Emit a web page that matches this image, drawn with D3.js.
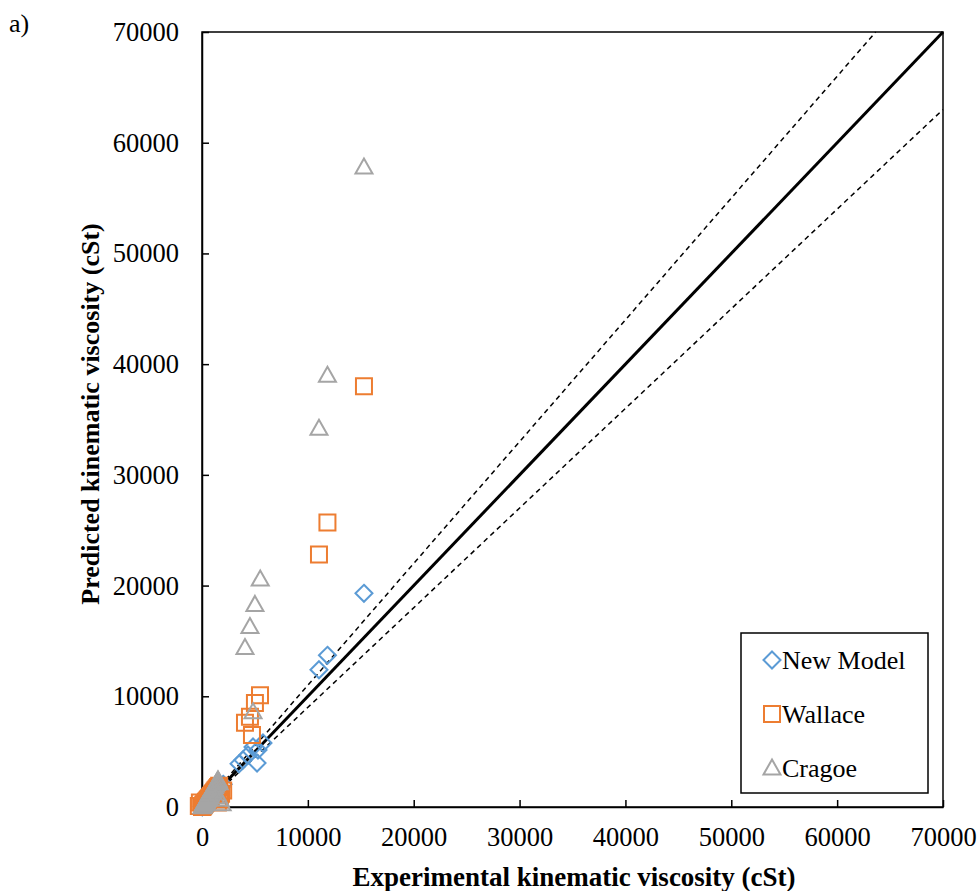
<!DOCTYPE html>
<html>
<head>
<meta charset="utf-8">
<script src="https://cdn.jsdelivr.net/npm/d3@7"></script>
<style>
  body { margin: 0; background: #fff; }
  text { font-family: 'Liberation Serif', 'Times New Roman', serif; }
</style>
</head>
<body>
<div id="chart"></div>
<script>
// experimental (x) and predicted (y) viscosities, cSt
let newModelExp = [15300, 11850, 11050, 3870, 4340, 4820, 5290, 5760, 5200, 3500,
  20, 40, 60, 80, 100, 130, 160, 200, 240, 280, 330, 380, 430, 500, 560, 620, 690, 760, 840, 920, 1000, 1080, 1160, 1250, 1340, 1430, 1520, 1620, 1800, 2000]
let newModelPred = [19300, 13700, 12400, 4250, 4700, 5420, 5150, 5780, 3970, 3900,
  22, 41, 62, 79, 103, 128, 165, 198, 243, 276, 335, 372, 440, 495, 570, 610, 700, 750, 850, 910, 1010, 1070, 1170, 1240, 1350, 1420, 1530, 1600, 1780, 2050]

let wallaceExp = [15300, 11850, 11050, 5480, 5000, 4530, 4060, 4720,
  0, 20, 40, 60, 80, 100, 130, 160, 200, 240, 280, 330, 380, 430, 500, 560, 620, 690, 760, 840, 920, 1000, 1080, 1160, 1250, 1340, 1430, 1520, 1620, 1800, 2000, 1700, 1500, -300, -200]
let wallacePred = [38000, 25700, 22800, 10100, 9400, 8150, 7600, 6500,
  0, 25, 50, 70, 95, 120, 155, 190, 240, 290, 330, 390, 450, 510, 590, 660, 730, 810, 890, 990, 1080, 1180, 1270, 1370, 1480, 1590, 1700, 1810, 1930, 1200, 1500, 700, 400, 100, 400]

let cragoeExp = [15300, 11850, 11050, 5500, 5000, 4530, 4060, 4820, 1510,
  20, 40, 60, 80, 100, 130, 160, 200, 240, 280, 330, 380, 430, 500, 560, 620, 690, 760, 840, 920, 1000, 1080, 1160, 1250, 1340, 1430, 1520, 1620, 1900, 1700, 1300]
let cragoePred = [57800, 39000, 34200, 20600, 18300, 16300, 14400, 8600, 2450,
  30, 60, 90, 120, 150, 200, 240, 300, 370, 430, 510, 590, 670, 780, 880, 980, 1090, 1200, 1330, 1460, 1590, 1720, 1850, 1990, 2130, 2270, 2400, 2200, 300, 700, 900]

let tickValues = [0, 10000, 20000, 30000, 40000, 50000, 60000, 70000]
let seriesNames = ['New Model', 'Wallace', 'Cragoe']
let seriesColors = ['#5B9BD5', '#ED7D31', '#A5A5A5']

var width = 977
var height = 891

var svg = d3.select('#chart')
  .append('svg')
  .attr('width', width)
  .attr('height', height)

var x = d3.scaleLinear().domain([0, 70000]).range([202, 943])
var y = d3.scaleLinear().domain([0, 70000]).range([807, 32])

// plot frame
svg.append('rect')
  .attr('x', x(0)).attr('y', y(70000))
  .attr('width', x(70000) - x(0)).attr('height', y(0) - y(70000))
  .attr('fill', 'none').attr('stroke', '#000').attr('stroke-width', 1.5)

// axes with inside ticks
var xAxis = svg.append('g')
  .attr('transform', 'translate(0,' + y(0) + ')')
  .call(d3.axisBottom(x).tickValues(tickValues).tickSizeInner(-7).tickSizeOuter(0).tickPadding(20).tickFormat(d3.format('d')))
var yAxis = svg.append('g')
  .attr('transform', 'translate(' + x(0) + ',0)')
  .call(d3.axisLeft(y).tickValues(tickValues).tickSizeInner(-7).tickSizeOuter(0).tickPadding(23).tickFormat(d3.format('d')))

;[xAxis, yAxis].forEach(function (g) {
  g.select('.domain').attr('stroke', '#000').attr('stroke-width', 1.5)
  g.selectAll('.tick line').attr('stroke', '#000').attr('stroke-width', 1.5)
  g.selectAll('.tick text')
    .attr('fill', '#000')
    .style('font-family', "'Liberation Serif', serif")
    .style('font-size', '26.5px')
})

// reference lines: 1:1 and +/-10%
var refLines = [
  {pts: [[0, 0], [70000, 70000]], dash: null, w: 3},
  {pts: [[0, 0], [70000 / 1.1, 70000]], dash: '5,4', w: 1.5},
  {pts: [[0, 0], [70000, 63000]], dash: '5,4', w: 1.5}
]
var line = d3.line()
  .x(function (d) { return x(d[0]) })
  .y(function (d) { return y(d[1]) })

svg.selectAll('path.ref')
  .data(refLines)
  .enter()
  .append('path')
  .attr('class', 'ref')
  .attr('d', function (d) { return line(d.pts) })
  .attr('fill', 'none')
  .attr('stroke', '#000')
  .attr('stroke-width', function (d) { return d.w })
  .attr('stroke-dasharray', function (d) { return d.dash })

// marker shapes
function markerPath (kind, cx, cy) {
  if (kind === 0) {
    var r = 8.5
    return 'M' + cx + ',' + (cy - r) + 'L' + (cx + r) + ',' + cy + 'L' + cx + ',' + (cy + r) + 'L' + (cx - r) + ',' + cy + 'Z'
  }
  if (kind === 1) {
    var s = 8
    return 'M' + (cx - s) + ',' + (cy - s) + 'H' + (cx + s) + 'V' + (cy + s) + 'H' + (cx - s) + 'Z'
  }
  return 'M' + cx + ',' + (cy - 8.5) + 'L' + (cx + 8.5) + ',' + (cy + 6.5) + 'L' + (cx - 8.5) + ',' + (cy + 6.5) + 'Z'
}

var allSeries = [
  {exp: newModelExp, pred: newModelPred},
  {exp: wallaceExp, pred: wallacePred},
  {exp: cragoeExp, pred: cragoePred}
]

allSeries.forEach(function (s, k) {
  var pts = s.exp.map(function (v, i) { return [v, s.pred[i]] })
  svg.append('g')
    .selectAll('path')
    .data(pts)
    .enter()
    .append('path')
    .attr('d', function (d) { return markerPath(k, x(d[0]), y(d[1])) })
    .attr('fill', 'none')
    .attr('stroke', seriesColors[k])
    .attr('stroke-width', 2)
})

// legend
var legend = svg.append('g')
legend.append('rect')
  .attr('x', 741).attr('y', 633).attr('width', 187).attr('height', 160)
  .attr('fill', '#fff').attr('stroke', '#000').attr('stroke-width', 1.5)
seriesNames.forEach(function (name, k) {
  var ly = 660 + k * 54
  legend.append('path')
    .attr('d', markerPath(k, 772, ly))
    .attr('fill', 'none')
    .attr('stroke', seriesColors[k])
    .attr('stroke-width', 2)
  legend.append('text')
    .attr('x', 782).attr('y', ly + 9)
    .style('font-size', '26px')
    .text(name)
})

// titles
svg.append('text')
  .attr('x', 574).attr('y', 886)
  .attr('text-anchor', 'middle')
  .style('font-size', '27px').style('font-weight', 'bold')
  .text('Experimental kinematic viscosity (cSt)')
svg.append('text')
  .attr('transform', 'translate(99,414) rotate(-90)')
  .attr('text-anchor', 'middle')
  .style('font-size', '26px').style('font-weight', 'bold')
  .text('Predicted kinematic viscosity (cSt)')
svg.append('text')
  .attr('x', 9).attr('y', 32)
  .style('font-size', '26px')
  .text('a)')
</script>
</body>
</html>
